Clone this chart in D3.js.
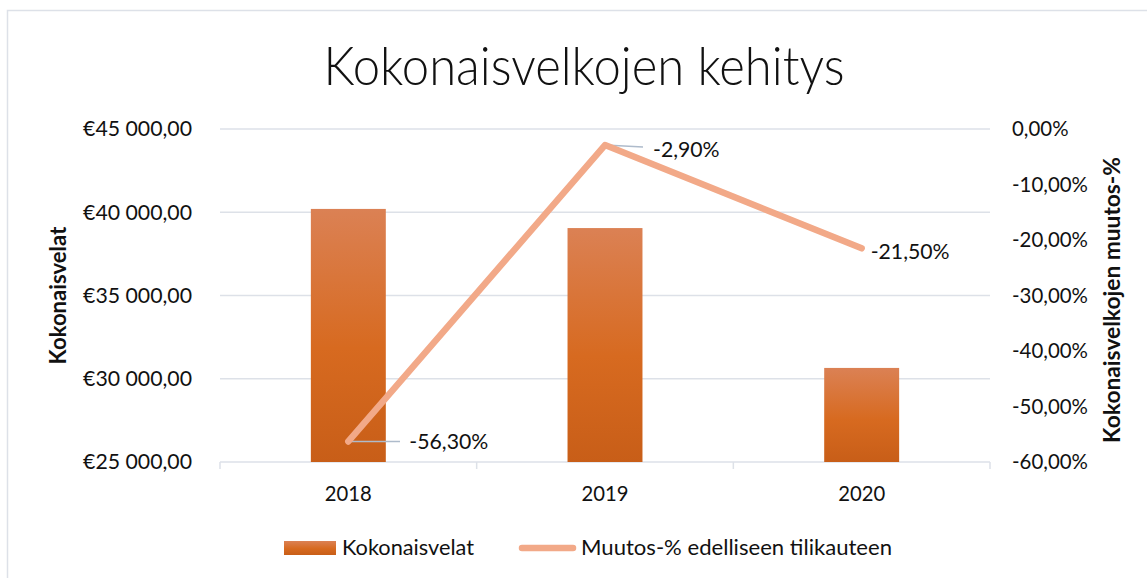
<!DOCTYPE html>
<html>
<head>
<meta charset="utf-8">
<script src="https://cdn.jsdelivr.net/npm/d3@7"></script>
<style>
  body { margin: 0; background: #fff; }
  svg { display: block; font-family: Lato, "Open Sans", sans-serif; }
</style>
</head>
<body>
<svg id="chart" width="1147" height="578"></svg>
<script>
// data
let years = ["2018", "2019", "2020"];
let debts = [40200, 39050, 30650];          // Kokonaisvelat (€)
let changes = [-56.3, -2.9, -21.5];         // Muutos-% edelliseen tilikauteen
let leftTicks = [25000, 30000, 35000, 40000, 45000];
let rightTicks = [0, -10, -20, -30, -40, -50, -60];

let svg = d3.select("#chart");

let plot = { left: 220, right: 990, top: 129, bottom: 462 };

let x = d3.scaleBand().domain(years).range([plot.left, plot.right]).padding(0);
let yLeft = d3.scaleLinear().domain([25000, 45000]).range([plot.bottom, plot.top]);
let yRight = d3.scaleLinear().domain([-60, 0]).range([plot.bottom, plot.top]);

let fmtEuro = v => "€" + d3.format(",.2f")(v).replace(/,/g, " ").replace(".", ",");
let fmtPct = v => d3.format(".2f")(v).replace(".", ",").replace("\u2212", "-") + "%";

// scale the font of a group so that one sample node gets the wanted width
// (Calibri is not available, so the widths are matched instead)
function fitFont(sel, sampleIndex, targetWidth) {
    let node = sel.nodes()[sampleIndex];
    let base = parseFloat(d3.select(node).attr("font-size")) || 20;
    let w = node.getComputedTextLength();
    if (w > 0) sel.attr("font-size", base * targetWidth / w);
}

// chart frame
svg.append("rect")
    .attr("x", 7.5).attr("y", 10.5)
    .attr("width", 1200).attr("height", 600)
    .attr("fill", "none")
    .attr("stroke", "#dde1e8")
    .attr("stroke-width", 1.5);

// gradient for bars
let grad = svg.append("defs").append("linearGradient")
    .attr("id", "barGrad")
    .attr("x1", 0).attr("y1", 0).attr("x2", 0).attr("y2", 1);
grad.append("stop").attr("offset", "0%").attr("stop-color", "#db8154");
grad.append("stop").attr("offset", "55%").attr("stop-color", "#d76a20");
grad.append("stop").attr("offset", "100%").attr("stop-color", "#c85e18");

// title
svg.append("text")
    .attr("x", 584).attr("y", 85)
    .attr("text-anchor", "middle")
    .attr("font-size", 53)
    .attr("font-weight", 300)
    .attr("fill", "#111")
    .attr("textLength", 521)
    .attr("lengthAdjust", "spacingAndGlyphs")
    .text("Kokonaisvelkojen kehitys");

// gridlines
svg.append("g")
    .selectAll("line")
    .data(leftTicks)
    .join("line")
    .attr("x1", plot.left).attr("x2", plot.right)
    .attr("y1", d => yLeft(d)).attr("y2", d => yLeft(d))
    .attr("stroke", "#dde1e8")
    .attr("stroke-width", 1.5);

// left axis
let leftAxis = d3.axisLeft(yLeft).tickValues(leftTicks).tickFormat(fmtEuro).tickSize(0).tickPadding(28);
let gl = svg.append("g").attr("transform", `translate(${plot.left},0)`).call(leftAxis);
gl.select(".domain").remove();
let glText = gl.selectAll("text").attr("font-size", 20).attr("fill", "#111").attr("font-family", "Lato, sans-serif");
fitFont(glText, 4, 109);

// right axis
let rightAxis = d3.axisRight(yRight).tickValues(rightTicks).tickFormat(fmtPct).tickSize(0).tickPadding(22);
let gr = svg.append("g").attr("transform", `translate(${plot.right},0)`).call(rightAxis);
gr.select(".domain").remove();
let grText = gr.selectAll("text").attr("font-size", 20).attr("fill", "#111").attr("font-family", "Lato, sans-serif");
fitFont(grText, 5, 76);

// x axis
let bounds = years.map(d => x(d)).concat([plot.right]);
svg.append("g")
    .selectAll("line")
    .data(bounds)
    .join("line")
    .attr("x1", d => d).attr("x2", d => d)
    .attr("y1", plot.bottom).attr("y2", plot.bottom + 7)
    .attr("stroke", "#dde1e8")
    .attr("stroke-width", 1.5);

let xText = svg.append("g")
    .selectAll("text")
    .data(years)
    .join("text")
    .attr("x", d => x(d) + x.bandwidth() / 2)
    .attr("y", 501)
    .attr("text-anchor", "middle")
    .attr("font-size", 20)
    .attr("fill", "#111")
    .text(d => d);
fitFont(xText, 0, 47);

// axis titles
let lt = svg.append("text")
    .attr("transform", `translate(66,${(plot.top + plot.bottom) / 2}) rotate(-90)`)
    .attr("text-anchor", "middle")
    .attr("font-size", 19)
    .attr("font-weight", "bold")
    .attr("fill", "#111")
    .text("Kokonaisvelat");
fitFont(lt, 0, 138);

let rt = svg.append("text")
    .attr("transform", `translate(1120,300) rotate(-90)`)
    .attr("text-anchor", "middle")
    .attr("font-size", 19)
    .attr("font-weight", "bold")
    .attr("fill", "#111")
    .text("Kokonaisvelkojen muutos-%");
fitFont(rt, 0, 286);

// bars
let barW = x.bandwidth() * 0.292;
svg.append("g")
    .selectAll("rect")
    .data(years.map((y, i) => ({ year: y, value: debts[i] })))
    .join("rect")
    .attr("x", d => x(d.year) + x.bandwidth() / 2 - barW / 2)
    .attr("y", d => yLeft(d.value))
    .attr("width", barW)
    .attr("height", d => plot.bottom - yLeft(d.value))
    .attr("fill", "url(#barGrad)");

// line points
let pts = years.map((y, i) => ({ year: y, value: changes[i], cx: x(y) + x.bandwidth() / 2, cy: yRight(changes[i]) }));

// leader lines for labels
let leaders = [
    { i: 0, x2: 400, y2: 0 },
    { i: 1, x2: 643, y2: 2 }
];
svg.append("g")
    .selectAll("line")
    .data(leaders)
    .join("line")
    .attr("x1", d => pts[d.i].cx)
    .attr("y1", d => pts[d.i].cy)
    .attr("x2", d => d.x2)
    .attr("y2", d => pts[d.i].cy + d.y2)
    .attr("stroke", "#aebbcb")
    .attr("stroke-width", 1.5);

svg.append("path")
    .datum(pts)
    .attr("d", d3.line().x(d => d.cx).y(d => d.cy))
    .attr("fill", "none")
    .attr("stroke", "#f2a988")
    .attr("stroke-width", 6.5)
    .attr("stroke-linecap", "round")
    .attr("stroke-linejoin", "round");

// data labels
let labelPos = [
    { dx: 61, dy: 8 },
    { dx: 48, dy: 12 },
    { dx: 9, dy: 11 }
];
let dl = svg.append("g")
    .selectAll("text")
    .data(pts)
    .join("text")
    .attr("x", (d, i) => d.cx + labelPos[i].dx)
    .attr("y", (d, i) => d.cy + labelPos[i].dy)
    .attr("font-size", 20)
    .attr("fill", "#111")
    .text(d => fmtPct(d.value));
fitFont(dl, 0, 79);

// legend
let lg = svg.append("g");
lg.append("rect")
    .attr("x", 284).attr("y", 541)
    .attr("width", 52).attr("height", 14)
    .attr("fill", "url(#barGrad)");
lg.append("text")
    .attr("x", 342).attr("y", 555)
    .attr("font-size", 21.5)
    .attr("fill", "#111")
    .attr("textLength", 132)
    .attr("lengthAdjust", "spacingAndGlyphs")
    .text("Kokonaisvelat");
lg.append("line")
    .attr("x1", 522).attr("x2", 573)
    .attr("y1", 548).attr("y2", 548)
    .attr("stroke", "#f2a988")
    .attr("stroke-width", 6.5)
    .attr("stroke-linecap", "round");
lg.append("text")
    .attr("x", 581).attr("y", 555)
    .attr("font-size", 21.5)
    .attr("fill", "#111")
    .attr("textLength", 311)
    .attr("lengthAdjust", "spacingAndGlyphs")
    .text("Muutos-% edelliseen tilikauteen");
</script>
</body>
</html>
